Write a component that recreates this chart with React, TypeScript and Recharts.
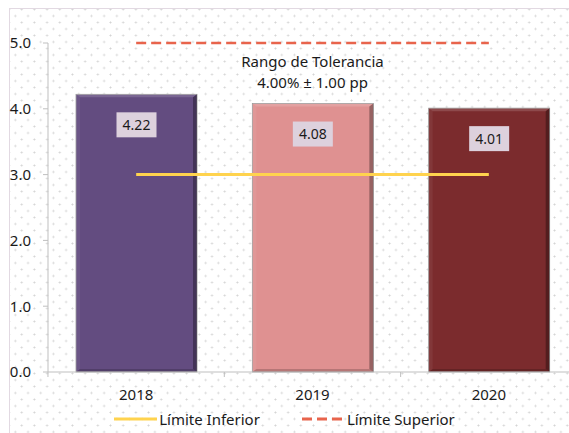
import React from 'react';
import { ComposedChart, Bar, Line, XAxis, YAxis, Cell, LabelList, Legend } from 'recharts';

const years = ['2018', '2019', '2020'];
const values = [4.22, 4.08, 4.01];
const lowerLimit = [3, 3, 3];
const upperLimit = [5, 5, 5];
const yTicks = [0, 1, 2, 3, 4, 5];
const barColors = ['#634C80', '#DF9191', '#7B2B2D'];
const seriesNames = { lower: 'Límite Inferior', upper: 'Límite Superior' };
const annotation = ['Rango de Tolerancia', '4.00% ± 1.00 pp'];

const data = years.map((y, i) => ({
  year: y,
  value: values[i],
  lower: lowerLimit[i],
  upper: upperLimit[i],
}));

const FONT = "'Noto Sans', 'Open Sans', sans-serif";

const BevelBar = (props: any) => {
  const { x, y, width, height, fill } = props;
  if (!width || !height) return null;
  const b = 4;
  return (
    <g>
      <rect x={x} y={y} width={width} height={height} fill={fill} stroke="#9a9a9a" strokeWidth={0.8} />
      <polygon points={`${x},${y} ${x + width},${y} ${x + width - b},${y + 3} ${x + b},${y + 3}`} fill="#ffffff" fillOpacity={0.15} />
      <polygon points={`${x},${y} ${x + b},${y + 3} ${x + b},${y + height - 3} ${x},${y + height}`} fill="#ffffff" fillOpacity={0.06} />
      <polygon points={`${x + width},${y} ${x + width},${y + height} ${x + width - b},${y + height - 3} ${x + width - b},${y + 3}`} fill="#000000" fillOpacity={0.32} />
      <polygon points={`${x},${y + height} ${x + width},${y + height} ${x + width - b},${y + height - 3} ${x + b},${y + height - 3}`} fill="#000000" fillOpacity={0.18} />
    </g>
  );
};

const ValueLabel = (props: any) => {
  const { x, y, width, value } = props;
  const cx = x + width / 2;
  const top = y + 18;
  return (
    <g>
      <rect x={cx - 20} y={top} width={40} height={25} fill="#DDD1DD" />
      <text x={cx} y={top + 17.5} textAnchor="middle" fontSize={14} fontFamily={FONT} fill="#1a1a1a">
        {Number(value).toFixed(2)}
      </text>
    </g>
  );
};

const AnnotationLabel = (props: any) => {
  const { x, y, index } = props;
  if (index !== 1) return null;
  return (
    <g>
      <text x={x} y={y + 24} textAnchor="middle" fontSize={15} fontFamily={FONT} fill="#1a1a1a">{annotation[0]}</text>
      <text x={x} y={y + 45} textAnchor="middle" fontSize={15} fontFamily={FONT} fill="#1a1a1a">{annotation[1]}</text>
    </g>
  );
};

const XTick = (props: any) => {
  const { x, y, payload } = props;
  return (
    <g>
      <line x1={x - 88.2} x2={x - 88.2} y1={y} y2={y + 5} stroke="#BFBFBF" />
      <text x={x} y={y + 28} textAnchor="middle" fontSize={15} fontFamily={FONT} fill="#1a1a1a">{payload.value}</text>
    </g>
  );
};

const LegendContent = (props: any) => {
  const { payload } = props;
  const items = (payload || []).filter((p: any) => p.type !== 'none' && p.value !== 'value');
  return (
    <div style={{ display: 'flex', justifyContent: 'center', alignItems: 'center', gap: 42, fontFamily: FONT, fontSize: 15, color: '#1a1a1a' }}>
      {items.map((p: any) => (
        <div key={p.value} style={{ display: 'flex', alignItems: 'center' }}>
          <svg width={43} height={8}>
            <line x1={0} x2={43} y1={4} y2={4} stroke={p.color} strokeWidth={3} strokeDasharray={p.payload?.strokeDasharray} />
          </svg>
          <span style={{ marginLeft: 2 }}>{p.value}</span>
        </div>
      ))}
    </div>
  );
};

export default function App() {
  return (
    <div style={{ position: 'absolute', left: 0, top: 0, width: 569, height: 433, overflow: 'hidden', background: '#ffffff' }}>
      <div
        style={{
          position: 'absolute',
          left: 9,
          top: 8,
          width: 620,
          height: 500,
          border: '1px solid #E2D9E2',
          backgroundImage:
            'radial-gradient(circle, #d4d4d4 0.8px, transparent 1.2px), radial-gradient(circle, #d4d4d4 0.8px, transparent 1.2px)',
          backgroundSize: '12.7px 13px',
          backgroundPosition: '-1px 0.5px, 5.35px 7px',
        }}
      />
      <div style={{ position: 'absolute', left: 0, top: 0 }}>
        <ComposedChart
          width={600}
          height={433}
          data={data}
          margin={{ top: 43, right: 23, bottom: 31, left: 0 }}
        >
          <XAxis
            dataKey="year"
            height={30}
            tickLine={false}
            tickSize={0}
            tickMargin={0}
            axisLine={{ stroke: '#BFBFBF' }}
            tick={<XTick />}
            interval={0}
          />
          <YAxis
            width={48}
            domain={[0, 5]}
            ticks={yTicks}
            tickFormatter={(v: number) => v.toFixed(1)}
            tickLine={{ stroke: '#BFBFBF' }}
            tickSize={5}
            tickMargin={12}
            axisLine={{ stroke: '#BFBFBF' }}
            tick={{ fontSize: 15, fontFamily: FONT, fill: '#1a1a1a' }}
          />
          <Bar dataKey="value" barSize={121} shape={<BevelBar />} isAnimationActive={false} legendType="none">
            {data.map((d, i) => (
              <Cell key={d.year} fill={barColors[i]} />
            ))}
            <LabelList dataKey="value" content={<ValueLabel />} />
          </Bar>
          <Line
            dataKey="lower"
            name={seriesNames.lower}
            stroke="#FFD34E"
            strokeWidth={3}
            dot={false}
            activeDot={false}
            isAnimationActive={false}
            legendType="plainline"
          />
          <Line
            dataKey="upper"
            name={seriesNames.upper}
            stroke="#E8644C"
            strokeWidth={2.5}
            strokeDasharray="10 5"
            dot={false}
            activeDot={false}
            isAnimationActive={false}
            legendType="plainline"
          >
            <LabelList dataKey="upper" content={<AnnotationLabel />} />
          </Line>
          <Legend
            content={<LegendContent />}
            wrapperStyle={{ position: 'absolute', left: 0, top: 409, width: 569, height: 0 }}
          />
        </ComposedChart>
      </div>
    </div>
  );
}
